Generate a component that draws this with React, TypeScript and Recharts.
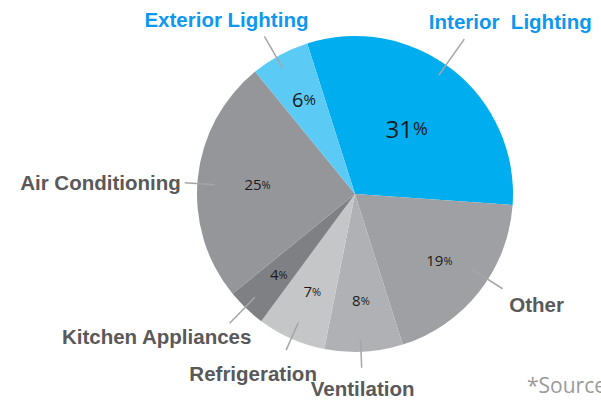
import { PieChart, Pie, Cell } from 'recharts';

const categories = [
  'Interior  Lighting',
  'Other',
  'Ventilation',
  'Refrigeration',
  'Kitchen Appliances',
  'Air Conditioning',
  'Exterior Lighting',
];
const shares = [31, 19, 8, 7, 4, 25, 6];

const sliceColors = ['#00aeef', '#9fa0a3', '#b0b1b4', '#c5c6c8', '#7f8083', '#95969a', '#5bcbf6'];

// label tweaks per slice: % radius fraction and size, leader line radii/angle shift, name offset from leader end
const labelStyle = [
  { r: 0.53, size: 24, r1: 0.92, r2: 1.2, da: 3, dx: 46, dy: -18, anchor: 'middle', color: '#0d98f0' },
  { r: 0.68, size: 15, r1: 0.87, r2: 1.11, da: 5.5, dx: 34, dy: 16, anchor: 'middle', color: '#595959' },
  { r: 0.67, size: 15, r1: 0.92, r2: 1.1, da: -1, dx: 1, dy: 21, anchor: 'middle', color: '#595959' },
  { r: 0.67, size: 15, r1: 0.89, r2: 1.08, da: 0, dx: -33, dy: 23, anchor: 'middle', color: '#595959' },
  { r: 0.70, size: 15, r1: 0.91, r2: 1.14, da: -0.5, dx: -73, dy: 13, anchor: 'middle', color: '#595959' },
  { r: 0.62, size: 15, r1: 0.89, r2: 1.08, da: 2, dx: -4, dy: 0, anchor: 'end', color: '#595959' },
  { r: 0.68, size: 20, r1: 0.92, r2: 1.15, da: 1.5, dx: -38, dy: -17, anchor: 'middle', color: '#0d98f0' },
];

const data = categories.map((name, i) => ({ name, value: shares[i] }));

const RAD = Math.PI / 180;

const renderLabel = (props: any) => {
  const { cx, cy, midAngle, outerRadius, index, value, name } = props;
  const s = labelStyle[index];
  const pt = (r: number, a: number) => ({
    x: cx + r * Math.cos(-a * RAD),
    y: cy + r * Math.sin(-a * RAD),
  });
  const inner = pt(outerRadius * s.r, midAngle);
  const la = midAngle + s.da;
  const p1 = pt(outerRadius * s.r1, la);
  const p2 = pt(outerRadius * s.r2, la);
  const small = Math.round(s.size * 0.75);
  return (
    <g>
      <text
        x={inner.x}
        y={inner.y}
        textAnchor="middle"
        dominantBaseline="central"
        fill="#1a1a1a"
        fontFamily="'Open Sans', sans-serif"
        fontSize={s.size}
      >
        {value}
        <tspan fontSize={small}>%</tspan>
      </text>
      <line x1={p1.x} y1={p1.y} x2={p2.x} y2={p2.y} stroke="#a6a6a6" strokeWidth={1.5} />
      <text
        x={p2.x + s.dx}
        y={p2.y + s.dy}
        textAnchor={s.anchor}
        dominantBaseline="central"
        fill={s.color}
        fontFamily="'Liberation Sans', Arial, sans-serif"
        fontWeight="bold"
        fontSize={20.5}
        style={{ whiteSpace: 'pre' }}
      >
        {name}
      </text>
    </g>
  );
};

export default function App() {
  return (
    <div style={{ position: 'absolute', left: 0, top: 0, width: 601, height: 402, background: '#fff' }}>
      <PieChart width={601} height={402} margin={{ top: 0, right: 0, bottom: 0, left: 0 }}>
        <Pie
          data={data}
          dataKey="value"
          nameKey="name"
          cx={355}
          cy={194}
          outerRadius={158}
          startAngle={107.6}
          endAngle={-252.4}
          stroke="none"
          labelLine={false}
          label={renderLabel}
          isAnimationActive={false}
        >
          {data.map((entry, i) => (
            <Cell key={`cell-${i}`} fill={sliceColors[i]} />
          ))}
        </Pie>
        <text
          x={527}
          y={385}
          dominantBaseline="central"
          fill="#9a9a9a"
          fontFamily="'Open Sans', sans-serif"
          fontSize={21}
        >
          *Source
        </text>
      </PieChart>
    </div>
  );
}
